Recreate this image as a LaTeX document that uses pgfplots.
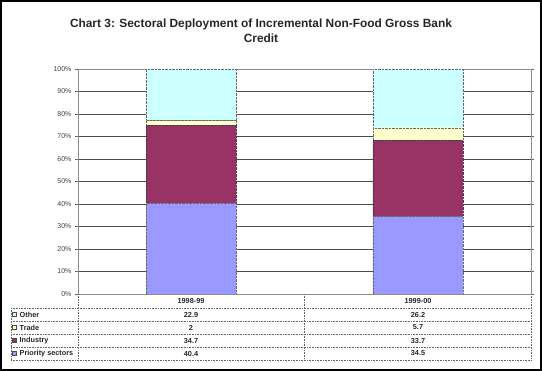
\documentclass[border=0pt]{standalone}
\usepackage{pgfplots}
\pgfplotsset{compat=1.18}
\usepackage{fontspec}
\setmainfont{Liberation Sans}
\definecolor{cPri}{HTML}{9999FF}
\definecolor{cInd}{HTML}{993366}
\definecolor{cTra}{HTML}{FFFFCC}
\definecolor{cOth}{HTML}{CCFFFF}
\begin{document}
\begin{tikzpicture}[x=1pt,y=1pt]
\useasboundingbox (0,0) rectangle (542,371);
\draw[line width=2pt] (1,1) rectangle (541,370);
\node[align=center,font=\fontsize{11.9}{15}\selectfont\bfseries, text=black!85] at (261,340.5)
  {Chart 3: Sectoral Deployment of Incremental Non-Food Gross Bank\\Credit};
\begin{axis}[
  at={(78pt,77pt)}, anchor=south west,
  scale only axis, width=453pt, height=225pt,
  xmin=-0.5, xmax=1.5, ymin=0, ymax=100,
  ybar stacked, bar width=90pt,
  xtick=\empty,
  ytick={0,10,...,100},
  yticklabel={\pgfmathprintnumber{\tick}\%},
  /pgf/number format/assume math mode=true,
  yticklabel style={font=\fontsize{7}{8}\selectfont, text=black!75},
  tick align=outside, major tick length=3pt,
  tick style={black!60},
  ymajorgrids, major grid style={black!70, line width=0.6pt},
  axis line style={black!45, line width=0.8pt},
  clip=true,
]
\addplot[fill=cPri, draw=black!60, densely dotted] coordinates {(0,40.4) (1,34.5)};
\addplot[fill=cInd, draw=black!75, densely dotted] coordinates {(0,34.7) (1,33.7)};
\addplot[fill=cTra, draw=black!60, densely dotted] coordinates {(0,2) (1,5.7)};
\addplot[fill=cOth, draw=black!60, densely dotted] coordinates {(0,22.9) (1,26.2)};
\end{axis}
% data table
\begin{scope}[black!60, line width=0.6pt, densely dotted]
\draw (78,77) -- (78,11);
\draw (304.5,77) -- (304.5,11);
\draw (531,77) -- (531,11);
\draw (11,63) -- (11,11);
\draw (78,63) -- (531,63);
\draw (11,63) -- (78,63);
\foreach \yy in {50,37,24,11} \draw (11,\yy) -- (531,\yy);
\end{scope}
\begin{scope}[font=\fontsize{7.3}{8}\selectfont\bfseries, text=black!85]
\node at (191,70) {1998-99};
\node at (418,70) {1999-00};
\node at (191,56.5) {22.9};
\node at (418,56.5) {26.2};
\node at (191,43.5) {2};
\node at (418,43.5) {5.7};
\node at (191,30.5) {34.7};
\node at (418,30.5) {33.7};
\node at (191,17.5) {40.4};
\node at (418,17.5) {34.5};
\node[anchor=west, inner sep=0pt] at (19.5,56.5) {Other};
\node[anchor=west, inner sep=0pt] at (19.5,43.5) {Trade};
\node[anchor=west, inner sep=0pt] at (19.5,30.5) {Industry};
\node[anchor=west, inner sep=0pt] at (19.5,17.5) {Priority sectors};
\end{scope}
\filldraw[fill=cOth, draw=black!70, line width=0.4pt] (12.5,54.5) rectangle (16.5,58.5);
\filldraw[fill=cTra, draw=black!70, line width=0.4pt] (12.5,41.5) rectangle (16.5,45.5);
\filldraw[fill=cInd, draw=black!70, line width=0.4pt] (12.5,28.5) rectangle (16.5,32.5);
\filldraw[fill=cPri, draw=black!70, line width=0.4pt] (12.5,15.5) rectangle (16.5,19.5);
\end{tikzpicture}
\end{document}
